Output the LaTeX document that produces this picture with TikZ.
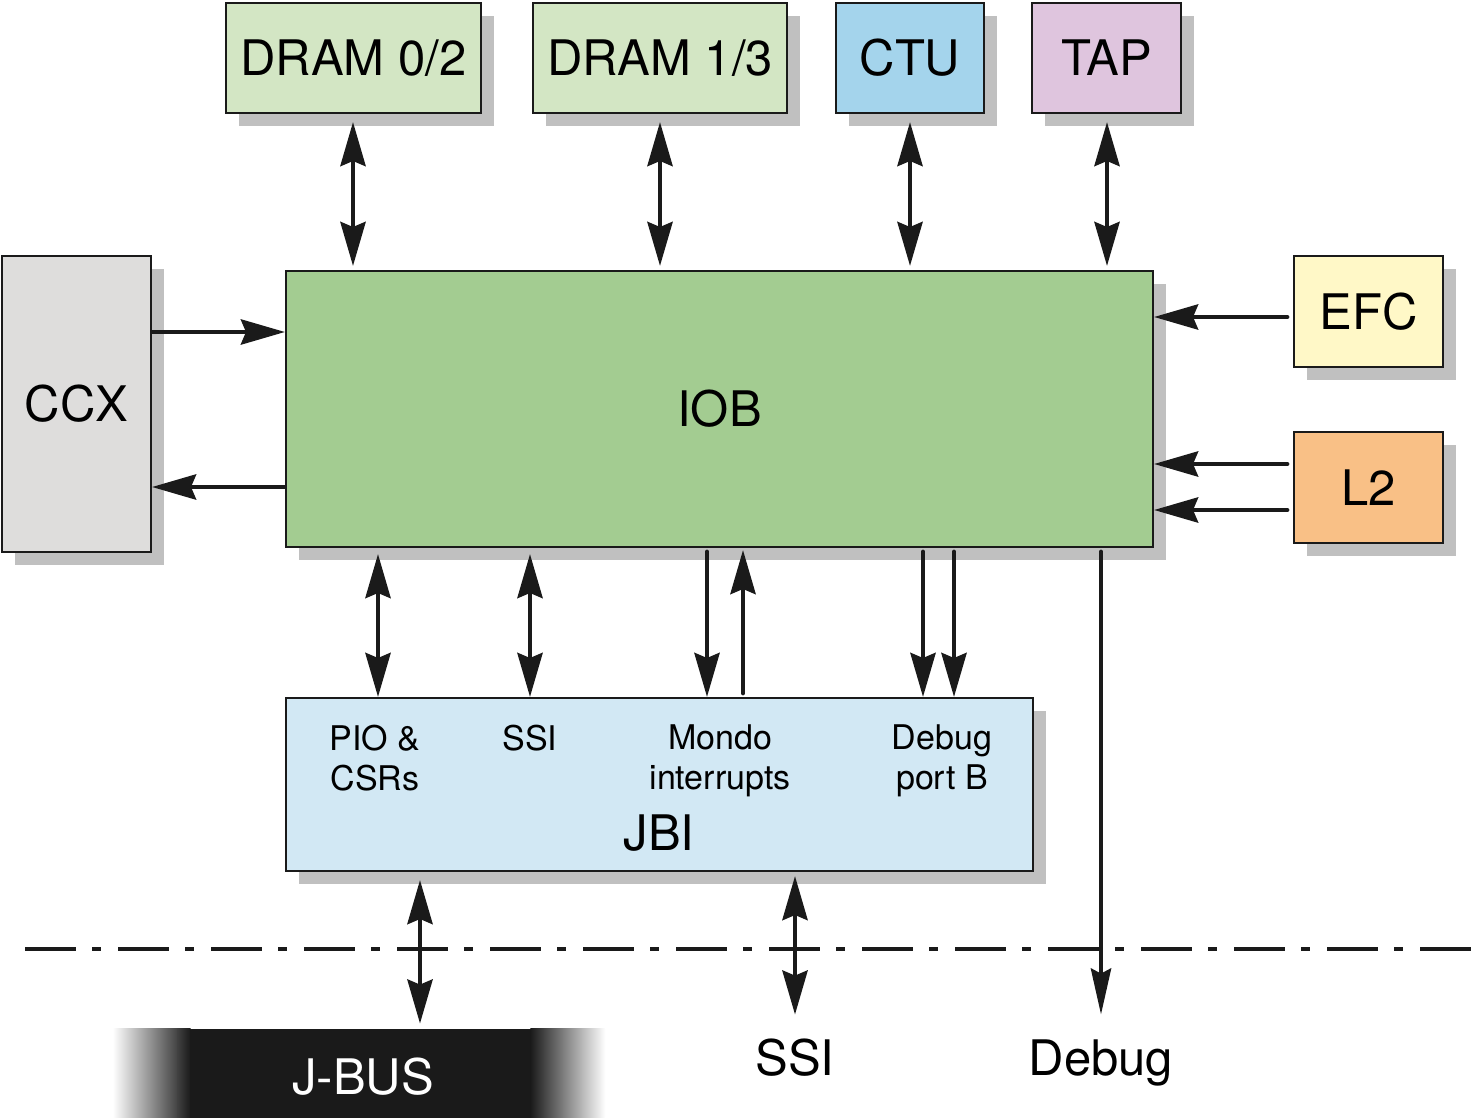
\documentclass[tikz,border=0pt]{standalone}
\usepackage{fontspec}
\setmainfont{TeX Gyre Heros}
\usetikzlibrary{arrows.meta,shadows,calc}
\definecolor{ink}{HTML}{1A1A1A}
\definecolor{shadowgray}{HTML}{C0C0C0}
\definecolor{dramgreen}{HTML}{D3E6C4}
\definecolor{ctublue}{HTML}{A4D4EC}
\definecolor{taplilac}{HTML}{DFC5DE}
\definecolor{iobgreen}{HTML}{A3CC91}
\definecolor{ccxgray}{HTML}{DEDDDC}
\definecolor{efcyellow}{HTML}{FFF8C7}
\definecolor{l2orange}{HTML}{F9C086}
\definecolor{jbiblue}{HTML}{D2E8F4}
\begin{document}
\begin{tikzpicture}[x=0.5pt,y=-0.5pt,
  box/.style={draw=ink, line width=1pt, inner sep=0pt,
    font=\fontsize{24.5}{28}\selectfont, text height=17.6pt, text depth=0pt,
    general shadow={fill=shadowgray, shadow xshift=6.5pt, shadow yshift=-6.5pt}},
  bigtext/.style={inner sep=0pt, font=\fontsize{24.5}{28}\selectfont, text height=17.6pt, text depth=0pt},
  smalltext/.style={inner sep=0pt, align=center, font=\fontsize{17}{20}\selectfont},
  uni/.style={draw=ink, line width=2.4pt, line cap=round, -{Stealth[length=22pt,width=12.5pt,inset=2.5pt]}},
  bi/.style={draw=ink, line width=2.4pt, {Stealth[length=22pt,width=12.5pt,inset=2.5pt]}-{Stealth[length=22pt,width=12.5pt,inset=2.5pt]}},
]
\useasboundingbox (0,0) rectangle (1478,1118);

% boxes
\node[box, fill=dramgreen, minimum width=127.5pt, minimum height=55pt] (d02) at (353.5,58) {DRAM 0/2};
\node[box, fill=dramgreen, minimum width=127pt, minimum height=55pt] (d13) at (660,58) {DRAM 1/3};
\node[box, fill=ctublue, minimum width=74pt, minimum height=55pt] (ctu) at (910,58) {CTU};
\node[box, fill=taplilac, minimum width=74.5pt, minimum height=55pt] (tap) at (1106.5,58) {TAP};
\node[box, fill=iobgreen, minimum width=433.5pt, minimum height=138pt] (iob) at (719.5,409) {IOB};
\node[box, fill=ccxgray, minimum width=74.5pt, minimum height=148pt] (ccx) at (76.5,404) {CCX};
\node[box, fill=efcyellow, minimum width=74.5pt, minimum height=55.5pt] (efc) at (1368.5,311.5) {EFC};
\node[box, fill=l2orange, minimum width=74.5pt, minimum height=55.5pt] (l2) at (1368.5,487.5) {L2};
\node[box, fill=jbiblue, minimum width=373.5pt, minimum height=86.5pt] (jbi) at (659.5,784.5) {};

% JBI contents
\node[smalltext] (pio) at (375,758) {PIO \&\\CSRs};
\node[smalltext, text height=12.2pt, text depth=0pt] (ssit) at (530,738) {SSI};
\node[smalltext] (mondo) at (720,761) {Mondo\\interrupts};
\node[smalltext] (dbgb) at (942,761) {Debug\\port B};
\node[bigtext] (jbil) at (659,833) {JBI};

% J-BUS bar
\node[minimum width=246pt, minimum height=44.5pt, inner sep=0pt] (jbus) at (359,1073.5) {};
\shade[left color=white, right color=black!75] (jbus.south west) rectangle ([xshift=33pt]jbus.north west);
\shade[left color=black!75, right color=ink] ([xshift=32.5pt]jbus.south west) rectangle ([xshift=39pt]jbus.north west);
\fill[ink] ([xshift=38.5pt]jbus.south west) rectangle ([xshift=-37pt]jbus.north east);
\shade[left color=ink, right color=white] ([xshift=-37.5pt]jbus.south east) rectangle (jbus.north east);
\node[bigtext, text=white] (jbust) at (363,1077) {J-BUS};

% bottom labels
\node[bigtext] (ssib) at (795,1058) {SSI};
\node[bigtext] (dbg) at (1101,1058) {Debug};

% dash-dot line
\coordinate (dl) at (25,949);
\coordinate (dr) at (1478,949);
\draw[ink, line width=2pt, dash pattern=on 25.5pt off 8pt on 4.5pt off 8.5pt] (dl) -- (dr);

% top arrows
\draw[bi, shorten <=4pt, shorten >=2pt] (d02.south -| 353,0) -- (iob.north -| 353,0);
\draw[bi, shorten <=4pt, shorten >=2pt] (d13.south) -- (d13.south |- iob.north);
\draw[bi, shorten <=4pt, shorten >=2pt] (ctu.south) -- (ctu.south |- iob.north);
\draw[bi, shorten <=4pt, shorten >=2pt] (tap.south -| 1107,0) -- (iob.north -| 1107,0);

% CCX
\draw[uni, line cap=butt] (ccx.east |- 0,332) -- (iob.west |- 0,332);
\draw[uni, line cap=butt] (iob.west |- 0,487) -- (ccx.east |- 0,487);

% EFC, L2
\draw[uni, shorten <=3pt] (efc.west |- 0,317) -- (iob.east |- 0,317);
\draw[uni, shorten <=3pt] (l2.west |- 0,464) -- (iob.east |- 0,464);
\draw[uni, shorten <=3pt] (l2.west |- 0,510) -- (iob.east |- 0,510);

% IOB - JBI
\draw[bi, shorten <=3pt] (iob.south -| 378,0) -- (jbi.north -| 378,0);
\draw[bi, shorten <=3pt] (iob.south -| 530,0) -- (jbi.north -| 530,0);
\draw[uni, shorten <=2pt] (iob.south -| 707,0) -- (jbi.north -| 707,0);
\draw[uni, shorten <=2pt, shorten >=1pt] (jbi.north -| 743,0) -- (iob.south -| 743,0);
\draw[uni, shorten <=2pt] (iob.south -| 923,0) -- (jbi.north -| 923,0);
\draw[uni, shorten <=2pt] (iob.south -| 954,0) -- (jbi.north -| 954,0);

% Debug
\draw[draw=ink, line width=2.4pt, line cap=round, -{Stealth[length=23pt,width=10pt,inset=2.5pt]}, shorten <=2pt, shorten >=12.7pt] (iob.south -| dbg) -- (dbg.north);

% JBI down
\draw[bi, shorten <=4pt, shorten >=2.5pt] (jbi.south -| 420,0) -- (jbus.north -| 420,0);
\draw[bi, shorten <=2pt, shorten >=12.7pt] (jbi.south -| ssib) -- (ssib.north);
\end{tikzpicture}
\end{document}
